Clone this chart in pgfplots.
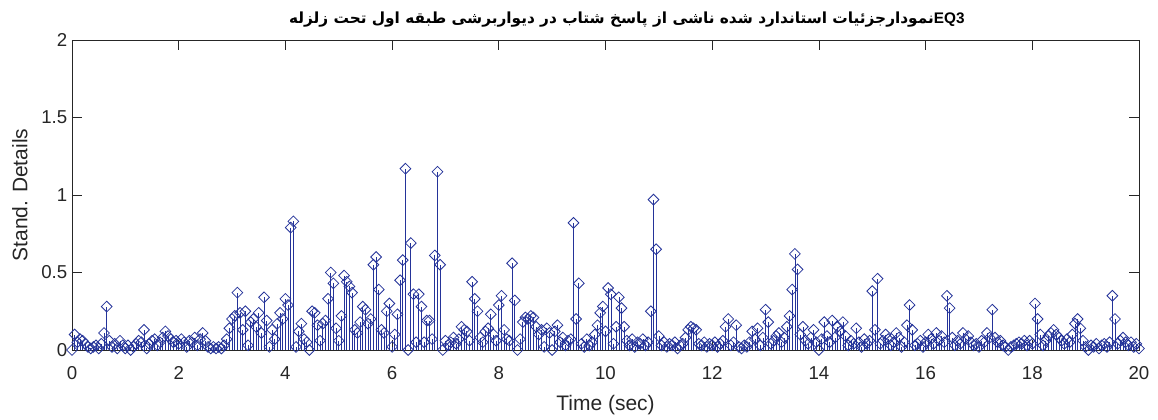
\documentclass[border=0pt]{standalone}
\usepackage{pgfplots}
\pgfplotsset{compat=1.18}
\usepackage{fontspec}
\setmainfont{Liberation Sans}
\newfontfamily\arabicfont[Script=Arabic]{DejaVu Sans}
\TeXXeTstate=1
\definecolor{stemblue}{rgb}{0.14,0.2,0.6}
\definecolor{axgray}{rgb}{0.15,0.15,0.15}
\newcommand{\RW}[1]{\beginR#1\endR}
\begin{document}
\begin{tikzpicture}
\path[use as bounding box] (-54pt,-51.75pt) rectangle (814.5pt,262.5pt);
\begin{axis}[
  at={(0,0)}, anchor=south west,
  scale only axis, width=800.25pt, height=232.5pt,
  xmin=0, xmax=20, ymin=0, ymax=2,
  xtick={0,2,...,20}, ytick={0,0.5,1,1.5,2},
  tick align=inside, major tick length=7.5pt,
  axis line style={axgray, line width=0.6pt},
  tick style={axgray, line width=0.6pt},
  /pgf/number format/assume math mode=true,
  every tick label/.append style={font=\fontsize{14}{16}\selectfont, text=axgray},
  xticklabel style={yshift=-9pt},
  label style={font=\fontsize{15.75}{18}\selectfont, text=axgray},
  xlabel={Time (sec)}, ylabel={Stand. Details},
  xlabel style={yshift=-5pt},
  ylabel style={yshift=3.5pt},
  title={{\arabicfont\bfseries \RW{زلزله} \RW{تحت} \RW{اول} \RW{طبقه} \RW{دیواربرشی} \RW{در} \RW{شتاب} \RW{پاسخ} \RW{از} \RW{ناشی} \RW{شده} \RW{استاندارد} \RW{نمودارجزئیات}}{\bfseries EQ3}},
  title style={font=\fontsize{11.5}{14}\selectfont, xshift=16pt},
]
\addplot[ycomb, stemblue, line width=0.5pt, mark=square, mark size=2.85pt,
  mark options={rotate=45, fill=none, line width=0.6pt, solid}] coordinates {
(0.00,0.00) (0.05,0.10) (0.10,0.05) (0.15,0.07) (0.20,0.06) (0.25,0.04) (0.30,0.02) (0.35,0.01) (0.40,0.02) (0.45,0.03)
(0.50,0.01) (0.55,0.04) (0.60,0.11) (0.65,0.28) (0.70,0.06) (0.75,0.02) (0.80,0.04) (0.85,0.01) (0.90,0.06) (0.95,0.03)
(1.00,0.01) (1.05,0.03) (1.10,0.00) (1.15,0.02) (1.20,0.04) (1.25,0.06) (1.30,0.05) (1.35,0.13) (1.40,0.01) (1.45,0.04)
(1.50,0.06) (1.55,0.07) (1.60,0.03) (1.65,0.05) (1.70,0.08) (1.75,0.12) (1.80,0.09) (1.85,0.07) (1.90,0.05) (1.95,0.06)
(2.00,0.04) (2.05,0.07) (2.10,0.05) (2.15,0.02) (2.20,0.06) (2.25,0.05) (2.30,0.08) (2.35,0.03) (2.40,0.07) (2.45,0.11)
(2.50,0.06) (2.55,0.02) (2.60,0.01) (2.65,0.02) (2.70,0.01) (2.75,0.02) (2.80,0.01) (2.85,0.03) (2.90,0.07) (2.95,0.14)
(3.00,0.20) (3.05,0.22) (3.10,0.37) (3.15,0.24) (3.20,0.13) (3.25,0.25) (3.30,0.03) (3.35,0.18) (3.40,0.20) (3.45,0.15)
(3.50,0.24) (3.55,0.11) (3.60,0.34) (3.65,0.19) (3.70,0.02) (3.75,0.13) (3.80,0.07) (3.85,0.17) (3.90,0.24) (3.95,0.20)
(4.00,0.33) (4.05,0.29) (4.10,0.79) (4.15,0.83) (4.20,0.02) (4.25,0.12) (4.30,0.17) (4.35,0.07) (4.40,0.05) (4.45,0.00)
(4.50,0.25) (4.55,0.24) (4.60,0.16) (4.65,0.06) (4.70,0.17) (4.75,0.19) (4.80,0.33) (4.85,0.50) (4.90,0.43) (4.95,0.14)
(5.00,0.06) (5.05,0.22) (5.10,0.48) (5.15,0.44) (5.20,0.41) (5.25,0.37) (5.30,0.13) (5.35,0.11) (5.40,0.18) (5.45,0.28)
(5.50,0.26) (5.55,0.17) (5.60,0.20) (5.65,0.55) (5.70,0.60) (5.75,0.39) (5.80,0.13) (5.85,0.11) (5.90,0.25) (5.95,0.30)
(6.00,0.02) (6.05,0.10) (6.10,0.23) (6.15,0.45) (6.20,0.58) (6.25,1.17) (6.30,0.00) (6.35,0.69) (6.40,0.36) (6.45,0.05)
(6.50,0.36) (6.55,0.28) (6.60,0.05) (6.65,0.19) (6.70,0.19) (6.75,0.07) (6.80,0.61) (6.85,1.15) (6.90,0.55) (6.95,0.00)
(7.00,0.06) (7.05,0.03) (7.10,0.05) (7.15,0.08) (7.20,0.04) (7.25,0.07) (7.30,0.15) (7.35,0.13) (7.40,0.12) (7.45,0.06)
(7.50,0.44) (7.55,0.33) (7.60,0.25) (7.65,0.08) (7.70,0.05) (7.75,0.12) (7.80,0.14) (7.85,0.23) (7.90,0.10) (7.95,0.06)
(8.00,0.29) (8.05,0.35) (8.10,0.13) (8.15,0.07) (8.20,0.06) (8.25,0.56) (8.30,0.32) (8.35,0.00) (8.40,0.07) (8.45,0.18)
(8.50,0.21) (8.55,0.20) (8.60,0.22) (8.65,0.21) (8.70,0.15) (8.75,0.10) (8.80,0.13) (8.85,0.02) (8.90,0.14) (8.95,0.11)
(9.00,0.00) (9.05,0.12) (9.10,0.16) (9.15,0.05) (9.20,0.08) (9.25,0.03) (9.30,0.06) (9.35,0.07) (9.40,0.82) (9.45,0.20)
(9.50,0.43) (9.55,0.04) (9.60,0.02) (9.65,0.07) (9.70,0.03) (9.75,0.05) (9.80,0.10) (9.85,0.16) (9.90,0.24) (9.95,0.28)
(10.00,0.12) (10.05,0.40) (10.10,0.36) (10.15,0.04) (10.20,0.15) (10.25,0.34) (10.30,0.27) (10.35,0.15) (10.40,0.06) (10.45,0.03)
(10.50,0.07) (10.55,0.02) (10.60,0.05) (10.65,0.04) (10.70,0.07) (10.75,0.03) (10.80,0.05) (10.85,0.25) (10.90,0.97) (10.95,0.65)
(11.00,0.09) (11.05,0.03) (11.10,0.05) (11.15,0.02) (11.20,0.04) (11.25,0.03) (11.30,0.05) (11.35,0.01) (11.40,0.03) (11.45,0.04)
(11.50,0.08) (11.55,0.13) (11.60,0.15) (11.65,0.14) (11.70,0.13) (11.75,0.04) (11.80,0.03) (11.85,0.05) (11.90,0.02) (11.95,0.04)
(12.00,0.03) (12.05,0.05) (12.10,0.02) (12.15,0.04) (12.20,0.06) (12.25,0.15) (12.30,0.20) (12.35,0.03) (12.40,0.05) (12.45,0.16)
(12.50,0.02) (12.55,0.01) (12.60,0.03) (12.65,0.02) (12.70,0.05) (12.75,0.12) (12.80,0.07) (12.85,0.14) (12.90,0.03) (12.95,0.08)
(13.00,0.26) (13.05,0.18) (13.10,0.04) (13.15,0.06) (13.20,0.09) (13.25,0.11) (13.30,0.05) (13.35,0.08) (13.40,0.15) (13.45,0.22)
(13.50,0.39) (13.55,0.62) (13.60,0.52) (13.65,0.10) (13.70,0.15) (13.75,0.06) (13.80,0.04) (13.85,0.08) (13.90,0.13) (13.95,0.05)
(14.00,0.00) (14.05,0.07) (14.10,0.18) (14.15,0.09) (14.20,0.05) (14.25,0.19) (14.30,0.08) (14.35,0.15) (14.40,0.12) (14.45,0.18)
(14.50,0.09) (14.55,0.03) (14.60,0.06) (14.65,0.04) (14.70,0.14) (14.75,0.05) (14.80,0.02) (14.85,0.07) (14.90,0.04) (14.95,0.06)
(15.00,0.38) (15.05,0.13) (15.10,0.46) (15.15,0.04) (15.20,0.06) (15.25,0.10) (15.30,0.07) (15.35,0.03) (15.40,0.05) (15.45,0.11)
(15.50,0.08) (15.55,0.02) (15.60,0.05) (15.65,0.16) (15.70,0.29) (15.75,0.13) (15.80,0.03) (15.85,0.04) (15.90,0.06) (15.95,0.02)
(16.00,0.05) (16.05,0.10) (16.10,0.07) (16.15,0.04) (16.20,0.11) (16.25,0.06) (16.30,0.09) (16.35,0.05) (16.40,0.35) (16.45,0.27)
(16.50,0.08) (16.55,0.03) (16.60,0.06) (16.65,0.04) (16.70,0.11) (16.75,0.07) (16.80,0.09) (16.85,0.05) (16.90,0.03) (16.95,0.04)
(17.00,0.02) (17.05,0.06) (17.10,0.05) (17.15,0.11) (17.20,0.08) (17.25,0.26) (17.30,0.08) (17.35,0.05) (17.40,0.06) (17.45,0.03)
(17.50,0.02) (17.55,0.00) (17.60,0.02) (17.65,0.03) (17.70,0.04) (17.75,0.05) (17.80,0.04) (17.85,0.06) (17.90,0.03) (17.95,0.06)
(18.00,0.04) (18.05,0.30) (18.10,0.20) (18.15,0.10) (18.20,0.03) (18.25,0.06) (18.30,0.09) (18.35,0.11) (18.40,0.13) (18.45,0.10)
(18.50,0.08) (18.55,0.06) (18.60,0.04) (18.65,0.07) (18.70,0.05) (18.75,0.10) (18.80,0.17) (18.85,0.20) (18.90,0.14) (18.95,0.06)
(19.00,0.02) (19.05,0.00) (19.10,0.03) (19.15,0.02) (19.20,0.04) (19.25,0.01) (19.30,0.03) (19.35,0.04) (19.40,0.02) (19.45,0.05)
(19.50,0.35) (19.55,0.20) (19.60,0.04) (19.65,0.06) (19.70,0.08) (19.75,0.05) (19.80,0.03) (19.85,0.05) (19.90,0.02) (19.95,0.04)
(20.00,0.01)
};
\end{axis}
\end{tikzpicture}
\end{document}
